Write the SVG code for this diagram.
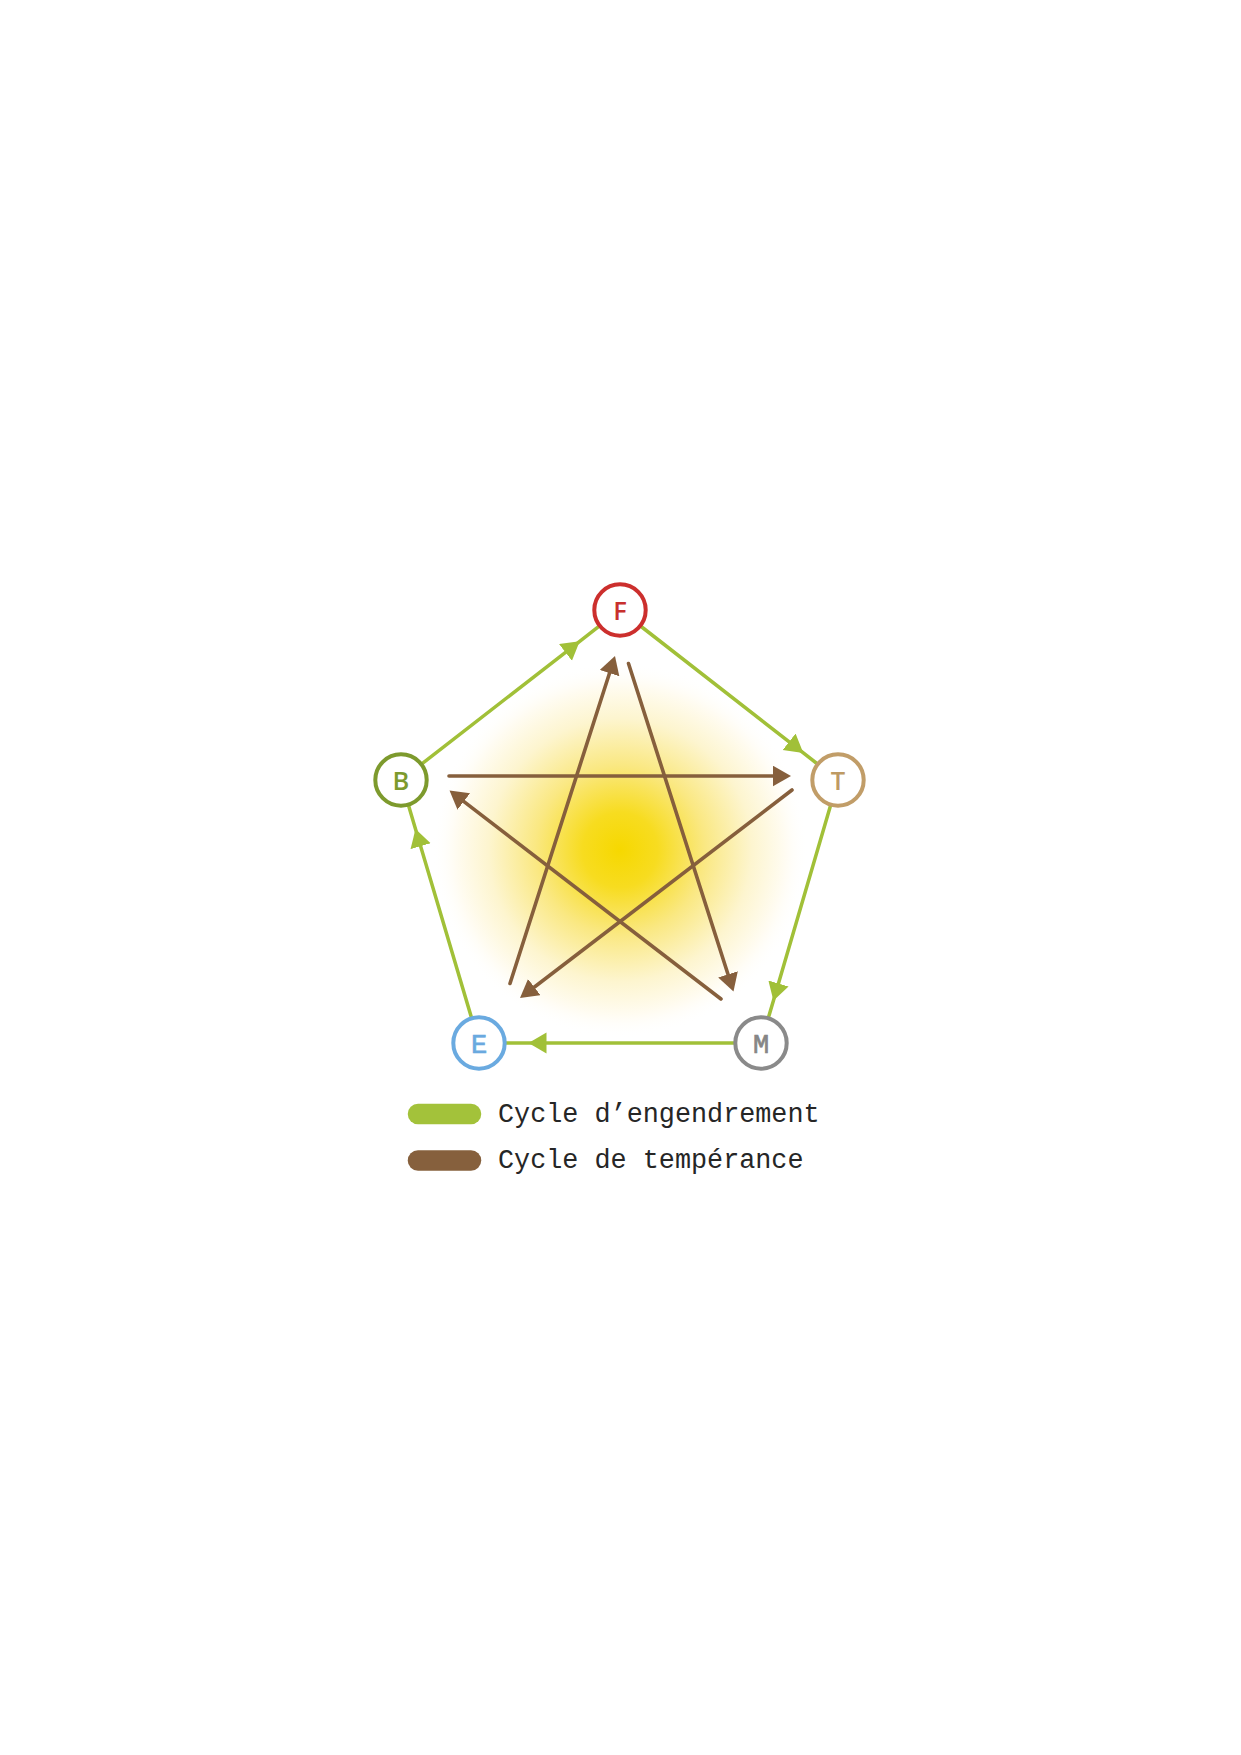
<svg xmlns="http://www.w3.org/2000/svg" width="1241" height="1755" viewBox="0 0 1241 1755">
  <style>
    .g { fill: none; stroke: #A1C038; stroke-width: 3.5; marker-mid: url(#ga); }
    .b { fill: none; stroke: #865F3C; stroke-width: 3.6; stroke-linecap: round; marker-end: url(#ba); }
    .node { fill: #FFFFFF; stroke-width: 4; }
    .ls { font-family: "Open Sans", "Noto Sans", sans-serif; font-size: 25.5px; font-weight: 600; text-anchor: middle; }
    .lm { font-family: "Liberation Mono", "DejaVu Sans Mono", monospace; font-size: 27px; text-anchor: middle; stroke-width: 0.7; }
    .leg { font-family: "Liberation Mono", "DejaVu Sans Mono", monospace; font-size: 26.8px; fill: #262626; }
  </style>
  <defs>
    <radialGradient id="glow" gradientUnits="userSpaceOnUse" cx="620" cy="850" r="188">
      <stop offset="0" stop-color="#F6D800"/>
      <stop offset="0.2" stop-color="#F7DC20"/>
      <stop offset="0.45" stop-color="#FAE882"/>
      <stop offset="0.7" stop-color="#FDF5CF"/>
      <stop offset="0.88" stop-color="#FFFCF2"/>
      <stop offset="1" stop-color="#FFFFFF" stop-opacity="0"/>
    </radialGradient>
    <marker id="ga" markerUnits="userSpaceOnUse" markerWidth="22" markerHeight="24" refX="18" refY="10.5" orient="auto" viewBox="0 0 22 24">
      <path d="M0,0 L18,10.5 L0,21 z" fill="#A1C038"/>
    </marker>
    <marker id="ba" markerUnits="userSpaceOnUse" markerWidth="20" markerHeight="22" refX="1" refY="10.3" orient="auto" viewBox="0 0 20 22">
      <path d="M0,0 L18,10.3 L0,20.6 z" fill="#865F3C"/>
    </marker>
  </defs>

  <rect x="0" y="0" width="1241" height="1755" fill="#FFFFFF"/>
  <circle cx="620" cy="850" r="188" fill="url(#glow)"/>

  <g id="connectors">
    <path class="g" d="M421.5,764.1 L579.7,641.3 L599.5,625.9"/>
    <path class="g" d="M640.5,626 L803.3,752.9 L817.5,764"/>
    <path class="g" d="M830.7,805 L773.4,1000.8 L768.3,1018"/>
    <path class="g" d="M735,1043 L528.5,1043 L505,1043"/>
    <path class="g" d="M471.6,1018.1 L415.5,828.9 L408.4,804.9"/>

    <path class="b" d="M449,776 L774,776"/>
    <path class="b" d="M792,790 L533.5,987.7"/>
    <path class="b" d="M510,983.5 L609.8,672.2"/>
    <path class="b" d="M628.5,663.5 L728.3,975.3"/>
    <path class="b" d="M721,999 L463,800.9"/>
  </g>

  <g id="node-F">
    <circle class="node" cx="620" cy="610" r="25.7" stroke="#CC2F2D"/>
    <text class="ls" x="620" y="620" fill="#C8302D">F</text>
  </g>
  <g id="node-B">
    <circle class="node" cx="401" cy="780" r="25.7" stroke="#7D9A2D"/>
    <text class="ls" x="401" y="790" fill="#7D9A2D">B</text>
  </g>
  <g id="node-T">
    <circle class="node" cx="838" cy="780" r="25.7" stroke="#C19D68"/>
    <text class="ls" x="838" y="790" fill="#BE9A63">T</text>
  </g>
  <g id="node-E">
    <circle class="node" cx="479" cy="1043" r="25.7" stroke="#6AAAE0"/>
    <text class="lm" x="479" y="1052.5" fill="#6AA9DF" stroke="#6AA9DF">E</text>
  </g>
  <g id="node-M">
    <circle class="node" cx="761" cy="1043" r="25.7" stroke="#8A8A8A"/>
    <text class="lm" x="761" y="1052.5" fill="#868686" stroke="#868686">M</text>
  </g>

  <g id="legend">
    <line x1="418" y1="1114" x2="471" y2="1114" stroke="#A3C23A" stroke-width="20.5" stroke-linecap="round"/>
    <line x1="418" y1="1160.5" x2="471" y2="1160.5" stroke="#86603D" stroke-width="20.5" stroke-linecap="round"/>
    <text class="leg" x="498" y="1122">Cycle d’engendrement</text>
    <text class="leg" x="498" y="1168">Cycle de tempérance</text>
  </g>
</svg>
